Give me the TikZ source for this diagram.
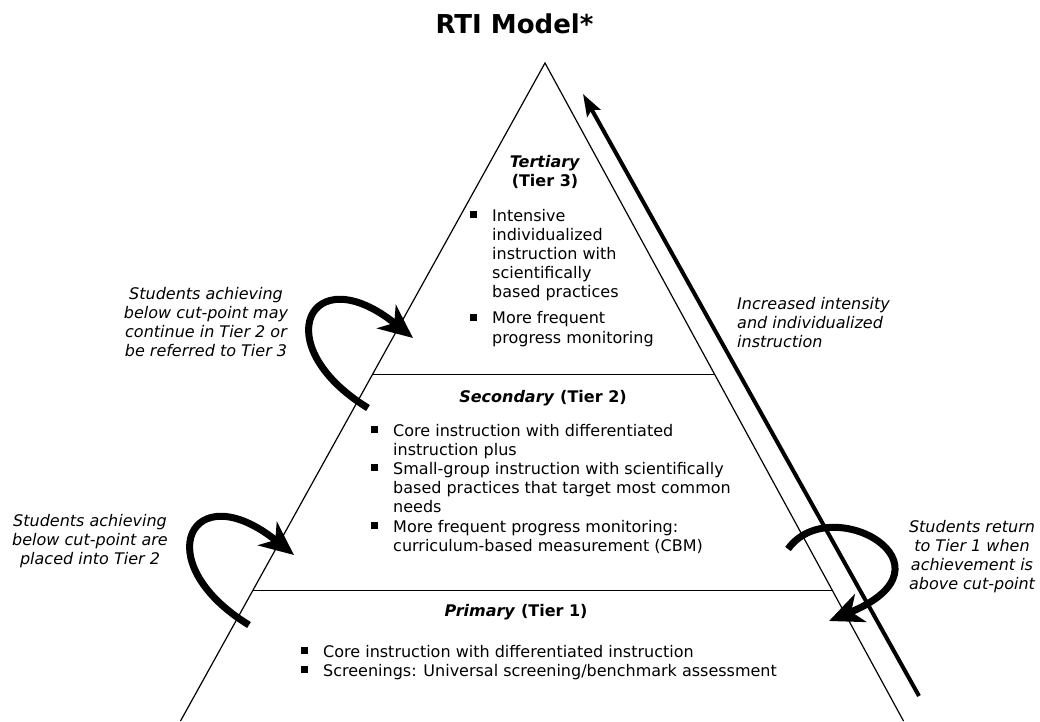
\documentclass[tikz,border=0pt]{standalone}
\usepackage{fontspec}
\setmainfont{DejaVu Sans}
\usetikzlibrary{arrows.meta,calc}
\newcommand{\sqbul}{\llap{\rule[3pt]{7pt}{7pt}\hspace{15.5pt}}}
\begin{document}
\begin{tikzpicture}[x=1pt,y=-1pt,
  txt/.style={inner sep=0pt, font=\fontsize{16}{19.2}\selectfont},
  head/.style={txt, font=\fontsize{16}{19.2}\selectfont\bfseries, align=center, anchor=base},
  lst/.style={txt, align=left, anchor=base west},
  lbl/.style={txt, font=\fontsize{16}{19.2}\selectfont\itshape, align=center, anchor=base},
  edge/.style={line width=1.2pt},
  loop/.style={line width=7pt, -{Stealth[length=34pt,width=30pt,inset=10pt]}},
  rise/.style={line width=4pt, -{Stealth[length=22pt,width=15pt,inset=4pt]}}]
\useasboundingbox (0,0) rectangle (1040,721);

% title
\node[inner sep=0pt, anchor=base, font=\fontsize{26}{30}\selectfont\bfseries] (title) at (514.5,33) {RTI Model*};

% triangle
\coordinate (apex) at (545,63);
\coordinate (bl) at (180.5,721);
\coordinate (br) at (903.5,721);
\draw[edge] (bl) -- (apex) -- (br);
\coordinate (h3l) at ($(apex)!0.4734!(bl)$);
\coordinate (h3r) at ($(apex)!0.4734!(br)$);
\coordinate (h2l) at ($(apex)!0.8021!(bl)$);
\coordinate (h2r) at ($(apex)!0.8021!(br)$);
\draw[edge] (h3l) -- (h3r);
\draw[edge] (h2l) -- (h2r);

% tier 3 (multi-line nodes: base = baseline of last line)
\node[head] (t3h) at (545,186.2) {\textit{Tertiary}\\(Tier 3)};
\node[lst] (t3l) at (492,343) {\sqbul Intensive\\individualized\\instruction with\\scientifically\\based practices\\[6.8pt]\sqbul More frequent\\progress monitoring};

% tier 2
\node[head] (t2h) at (543,402) {\textit{Secondary} (Tier 2)};
\node[lst] (t2l) at (393,551.2) {\sqbul Core instruction with differentiated\\instruction plus\\\sqbul Small-group instruction with scientifically\\based practices that target most common\\needs\\\sqbul More frequent progress monitoring:\\curriculum-based measurement (CBM)};

% tier 1
\node[head] (t1h) at (516,616) {\textit{Primary} (Tier 1)};
\node[lst] (t1l) at (323,676.2) {\sqbul Core instruction with differentiated instruction\\\sqbul Screenings: Universal screening/benchmark assessment};

% side labels
\node[lbl] (lab1) at (206,356.6) {Students achieving\\below cut-point may\\continue in Tier 2 or\\be referred to Tier 3};
\node[lbl] (lab2) at (90,564.4) {Students achieving\\below cut-point are\\placed into Tier 2};
\node[lbl] (lab3) at (972,589.6) {Students return\\to Tier 1 when\\achievement is\\above cut-point};
\node[lbl, align=left, anchor=base west] (lab4) at (737,347.4) {Increased intensity\\and individualized\\instruction};

% curved arrows
\coordinate (a1s) at (368,408);
\coordinate (a1e) at (413,338);
\draw[loop] (a1s) .. controls (265,345) and (310,255) .. (a1e);
\coordinate (a2s) at (249,625);
\coordinate (a2e) at (294,555);
\draw[loop] (a2s) .. controls (146,562) and (191,472) .. (a2e);
\coordinate (a3s) at (788,549);
\coordinate (a3e) at (829,621);
\draw[loop] (a3s) .. controls (830,490) and (965,565) .. (a3e);

% long arrow
\coordinate (rs) at (919,696);
\coordinate (re) at (583,94);
\draw[rise] (rs) -- (re);
\end{tikzpicture}
\end{document}
